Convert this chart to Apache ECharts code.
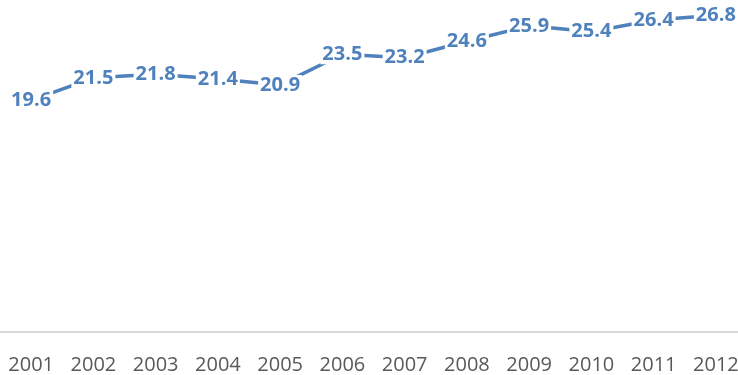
<!DOCTYPE html>
<html>
<head>
<meta charset="utf-8">
<style>
  html, body { margin: 0; padding: 0; background: #fff; overflow: hidden; }
  /* canvas is slightly wider than the window; the last year runs off the right edge */
  #chart { width: 747px; height: 375px; }
</style>
<script src="https://cdn.jsdelivr.net/npm/echarts@6/dist/echarts.min.js"></script>
</head>
<body>
<div id="chart"></div>
<script>
// Years along the horizontal axis
const years = ['2001', '2002', '2003', '2004', '2005', '2006', '2007', '2008', '2009', '2010', '2011', '2012'];
// Yearly values, each shown as a label on the line
const values = [19.6, 21.5, 21.8, 21.4, 20.9, 23.5, 23.2, 24.6, 25.9, 25.4, 26.4, 26.8];

const chart = echarts.init(document.getElementById('chart'), null, { renderer: 'canvas' });

chart.setOption({
  animation: false,
  backgroundColor: '#ffffff',
  grid: { left: 0, right: 0, top: 1, bottom: 41, containLabel: false },
  xAxis: {
    type: 'category',
    data: years,
    boundaryGap: true,
    axisLine: { show: true, lineStyle: { color: '#D9D9D9', width: 2 } },
    axisTick: { show: false },
    axisLabel: {
      color: '#595959',
      fontFamily: 'Open Sans',
      fontSize: 20,
      margin: 23,
      interval: 0
    },
    splitLine: { show: false }
  },
  yAxis: {
    type: 'value',
    min: 0,
    max: 28,
    show: false,
    splitLine: { show: false }
  },
  series: [{
    type: 'line',
    data: values,
    showSymbol: true,
    symbol: 'circle',
    symbolSize: 0,
    lineStyle: { color: '#4F81BD', width: 3.5 },
    itemStyle: { color: '#4F81BD' },
    label: {
      show: true,
      position: 'inside',
      color: '#4F81BD',
      fontFamily: 'Open Sans',
      fontWeight: 'bold',
      fontSize: 20,
      backgroundColor: '#ffffff',
      padding: [0, 2, 0, 2],
      formatter: p => p.value.toFixed(1)
    }
  }]
});
</script>
</body>
</html>
